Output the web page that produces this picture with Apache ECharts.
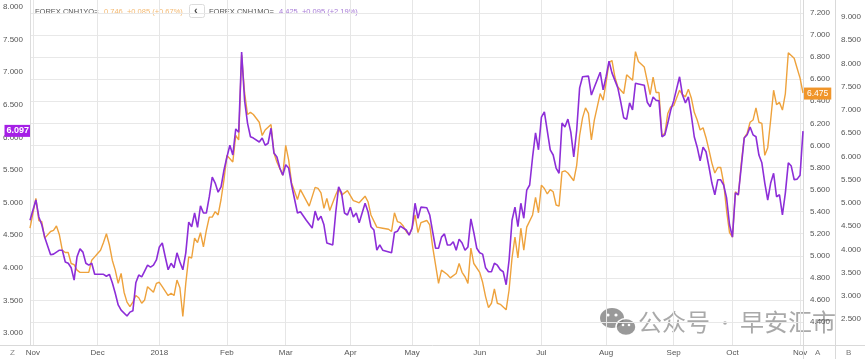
<!DOCTYPE html>
<html><head><meta charset="utf-8">
<script src="https://cdn.jsdelivr.net/npm/echarts@6/dist/echarts.min.js"></script>
<style>html,body{margin:0;padding:0;background:#fff}#c{width:865px;height:359px}</style>
</head><body><div id="c"></div>
<script>
// ---- Data ----
const firstDay = [2017, 9, 31];   // 2017-10-31
const lastDay = [2018, 10, 2];    // 2018-11-02
const monthNames = ['2018','Feb','Mar','Apr','May','Jun','Jul','Aug','Sep','Oct','Nov','Dec'];
const leftTicks = {min: 3, max: 8, interval: 0.5};
const axisATicks = {min: 4.4, max: 7.2, interval: 0.2};
const axisBTicks = {min: 2.5, max: 9, interval: 0.5};
const lastMO = 6.097;
const lastYO = 6.475;
// [weekday index, value]
const cnh1mo = [[0,4.73],[2,5.04],[3,4.78],[4,4.66],[5,4.47],[7,4.20],[8,4.21],[10,4.27],[11,4.27],[12,4.09],[13,4.07],[14,4.00],[15,3.81],[16,4.17],[17,4.29],[18,4.24],[19,4.07],[20,4.04],[21,4.07],[22,3.90],[23,3.90],[25,3.90],[26,3.87],[27,3.90],[28,3.77],[29,3.61],[30,3.43],[31,3.35],[33,3.26],[34,3.32],[35,3.34],[36,3.77],[37,3.89],[38,3.86],[39,3.95],[40,4.04],[41,4.01],[42,4.04],[43,4.12],[44,4.32],[45,4.38],[46,4.17],[47,3.97],[48,4.07],[49,4.00],[50,4.23],[51,4.09],[52,3.97],[53,4.23],[54,4.70],[55,4.63],[56,4.84],[57,4.62],[58,4.95],[59,4.84],[60,4.84],[61,5.09],[62,5.39],[63,5.30],[64,5.16],[65,5.24],[66,5.50],[67,5.70],[68,5.88],[69,5.73],[70,6.13],[71,6.08],[72,7.31],[73,6.57],[74,6.22],[75,6.01],[76,5.99],[78,5.93],[79,5.99],[80,5.88],[81,5.91],[82,6.14],[83,5.76],[84,5.70],[85,5.53],[86,5.42],[87,5.58],[88,5.53],[89,5.27],[91,4.84],[92,4.86],[94,4.73],[96,4.61],[97,4.87],[98,4.73],[99,4.79],[100,4.66],[101,4.38],[103,4.35],[104,4.84],[105,5.24],[106,5.15],[107,4.84],[108,4.81],[109,4.93],[110,4.78],[111,4.84],[112,4.69],[114,4.99],[115,4.86],[116,4.63],[117,4.58],[118,4.27],[119,4.35],[120,4.27],[123,4.23],[124,4.54],[125,4.56],[126,4.64],[128,4.58],[129,4.50],[130,4.61],[131,4.99],[132,4.76],[133,4.93],[135,4.92],[136,4.81],[137,4.55],[138,4.30],[139,4.30],[140,4.47],[141,4.52],[142,4.35],[143,4.35],[144,4.40],[145,4.27],[146,4.44],[147,4.38],[148,4.27],[149,4.32],[150,4.75],[151,4.54],[152,4.30],[153,4.23],[154,4.21],[155,4.00],[156,3.94],[157,3.94],[158,4.07],[159,4.04],[160,3.97],[161,3.94],[162,3.74],[163,4.12],[164,4.73],[165,4.93],[166,4.63],[167,4.99],[168,4.76],[169,5.19],[170,5.27],[171,5.70],[172,6.07],[173,5.81],[174,6.31],[175,6.39],[177,5.81],[178,5.73],[179,5.53],[180,5.45],[181,6.22],[182,6.16],[183,6.28],[184,6.08],[185,5.70],[186,6.11],[187,6.76],[188,6.93],[190,6.94],[191,6.65],[192,6.77],[194,7.00],[195,6.73],[196,6.93],[197,7.17],[198,6.99],[200,6.76],[201,6.54],[202,6.30],[203,6.28],[204,6.53],[205,6.42],[206,6.83],[207,6.82],[209,6.80],[210,6.54],[211,6.47],[212,6.62],[213,6.57],[214,6.56],[215,6.01],[216,6.04],[217,6.22],[218,6.42],[219,6.56],[221,6.93],[222,6.65],[223,6.53],[224,6.62],[225,6.34],[226,6.01],[227,5.85],[228,5.64],[229,5.85],[230,5.78],[231,5.55],[232,5.30],[233,5.12],[234,5.35],[235,5.35],[236,5.27],[237,5.07],[238,4.66],[239,4.47],[240,5.15],[241,5.12],[242,5.55],[243,5.99],[244,6.04],[245,6.16],[246,6.04],[247,6.01],[248,5.73],[249,5.61],[250,5.30],[251,5.04],[252,5.30],[253,5.45],[254,5.09],[255,5.12],[256,4.81],[257,5.15],[258,5.61],[259,5.56],[260,5.35],[261,5.36],[262,5.42],[263,6.097]];
const cnh1yo = [[0,5.25],[2,5.52],[3,5.32],[4,5.31],[5,5.16],[7,5.22],[8,5.23],[9,5.27],[10,5.19],[11,5.05],[12,5.03],[13,5.03],[14,4.93],[15,4.92],[16,4.87],[17,4.85],[19,4.85],[20,4.85],[21,4.96],[22,4.99],[23,5.02],[24,5.05],[25,5.12],[26,5.20],[27,5.10],[28,4.96],[29,4.87],[30,4.75],[31,4.84],[32,4.67],[33,4.58],[34,4.54],[35,4.58],[36,4.64],[37,4.62],[38,4.57],[39,4.60],[40,4.72],[42,4.67],[43,4.75],[44,4.76],[45,4.72],[47,4.64],[48,4.66],[49,4.64],[50,4.78],[51,4.71],[52,4.45],[53,4.75],[54,4.99],[55,4.98],[56,5.16],[57,5.12],[58,5.21],[59,5.08],[60,5.23],[61,5.35],[62,5.35],[63,5.40],[64,5.37],[65,5.51],[66,5.69],[67,5.91],[69,5.85],[70,6.09],[71,6.05],[72,6.82],[73,6.48],[74,6.28],[75,6.30],[76,6.28],[78,6.21],[79,6.09],[80,6.14],[82,6.19],[83,5.93],[84,5.85],[86,5.73],[87,6.00],[88,5.87],[89,5.66],[91,5.51],[92,5.60],[93,5.55],[95,5.45],[97,5.62],[98,5.61],[99,5.57],[100,5.43],[101,5.52],[102,5.41],[103,5.48],[104,5.55],[105,5.61],[106,5.55],[108,5.59],[110,5.50],[111,5.49],[112,5.48],[114,5.54],[115,5.49],[116,5.37],[118,5.26],[120,5.25],[122,5.24],[123,5.22],[124,5.39],[125,5.31],[126,5.30],[127,5.27],[128,5.22],[129,5.19],[130,5.25],[131,5.37],[132,5.21],[133,5.30],[135,5.32],[136,5.28],[137,5.08],[139,4.75],[140,4.87],[142,4.83],[143,4.80],[145,4.84],[146,4.93],[147,4.85],[148,4.81],[149,4.75],[150,5.07],[151,4.93],[153,4.85],[154,4.76],[155,4.63],[156,4.53],[157,4.57],[158,4.70],[159,4.57],[160,4.56],[162,4.51],[163,4.69],[164,4.98],[165,5.17],[166,4.98],[167,5.25],[168,5.05],[169,5.26],[171,5.37],[172,5.53],[173,5.39],[174,5.64],[175,5.61],[176,5.56],[177,5.60],[178,5.58],[179,5.46],[180,5.45],[181,5.76],[182,5.77],[183,5.75],[185,5.68],[186,5.82],[187,6.09],[188,6.25],[189,6.34],[190,6.29],[191,6.05],[192,6.23],[193,6.35],[194,6.47],[195,6.41],[196,6.57],[197,6.75],[198,6.77],[199,6.62],[200,6.53],[202,6.47],[203,6.64],[205,6.59],[206,6.85],[207,6.76],[209,6.71],[211,6.46],[212,6.62],[213,6.48],[214,6.48],[215,6.09],[216,6.11],[217,6.29],[218,6.35],[219,6.36],[221,6.50],[222,6.46],[223,6.44],[224,6.51],[225,6.43],[226,6.30],[227,6.23],[228,6.14],[229,6.16],[230,6.07],[231,5.96],[232,5.84],[233,5.75],[234,5.80],[235,5.80],[236,5.66],[237,5.41],[238,5.21],[239,5.17],[240,5.58],[241,5.55],[242,5.84],[243,6.07],[244,6.11],[245,6.21],[246,6.23],[247,6.34],[248,6.21],[249,6.20],[250,5.91],[251,5.98],[252,6.23],[253,6.50],[254,6.37],[255,6.39],[256,6.32],[257,6.47],[258,6.84],[260,6.79],[261,6.70],[262,6.61],[263,6.475]];

// ---- weekday categories ----
const categories = [];
(function(){
  let d = Date.UTC(firstDay[0], firstDay[1], firstDay[2]);
  const e = Date.UTC(lastDay[0], lastDay[1], lastDay[2]);
  while (d <= e) {
    const w = new Date(d).getUTCDay();
    if (w !== 0 && w !== 6) categories.push(new Date(d).toISOString().slice(0,10));
    d += 86400000;
  }
})();
function isMonthStart(i){
  if (i === 0) return false;
  return categories[i].slice(5,7) !== categories[i-1].slice(5,7);
}
function monthLabel(v){ return monthNames[parseInt(v.slice(5,7),10)-1]; }

const PURPLE = '#8d2ed8', ORANGE = '#eea23c';
const FONT = "'Liberation Sans', Arial, sans-serif";
const CJK = "'Noto Sans CJK SC', sans-serif";
const lab = {color:'#555', fontSize:8, fontFamily:FONT};

const gridBase = {left:30, right:62};
const grids = [
  Object.assign({top:0, bottom:14}, gridBase),
  Object.assign({top:7, bottom:26}, gridBase),
  Object.assign({top:13, bottom:37}, gridBase),
  Object.assign({top:17, bottom:40}, gridBase)
];
const xAxes = grids.map((g, i) => ({
  type:'category', gridIndex:i, data:categories, boundaryGap:false,
  axisLine:{show:false}, axisTick:{show:false},
  axisLabel: i === 0 ? Object.assign({interval:(idx)=>isMonthStart(idx), formatter:monthLabel, margin:4}, lab) : {show:false},
  splitLine: i === 0 ? {show:true, interval:(idx)=>isMonthStart(idx), lineStyle:{color:'#e6e6e6', width:1}} : {show:false}
}));
const yAxes = [
  {type:'value', gridIndex:0, min:0, max:1, show:false},
  Object.assign({type:'value', gridIndex:1, position:'left',
    axisLine:{show:false}, axisTick:{show:false}, splitLine:{show:false},
    axisLabel:Object.assign({formatter:v=>v.toFixed(3), margin:7}, lab)}, leftTicks),
  Object.assign({type:'value', gridIndex:2, position:'right',
    axisLine:{show:false}, axisTick:{show:false}, splitLine:{show:true, lineStyle:{color:'#e8e8e8'}},
    axisLabel:Object.assign({formatter:v=>v.toFixed(3), margin:7}, lab)}, axisATicks),
  Object.assign({type:'value', gridIndex:3, position:'right', offset:32,
    axisLine:{show:false}, axisTick:{show:false}, splitLine:{show:false},
    axisLabel:Object.assign({formatter:v=>v.toFixed(3), margin:6}, lab)}, axisBTicks)
];

const chart = echarts.init(document.getElementById('c'), null, {renderer:'canvas'});
chart.setOption({
  animation:false,
  backgroundColor:'#fff',
  grid: grids,
  xAxis: xAxes,
  yAxis: yAxes,
  series: [
    {type:'line', name:'FOREX CNH1YO=', xAxisIndex:2, yAxisIndex:2, data:cnh1yo, showSymbol:false, symbol:'none',
     lineStyle:{color:ORANGE, width:1.4}, itemStyle:{color:ORANGE}, z:3,
     markLine:{silent:true, symbol:'none', lineStyle:{color:'rgba(0,0,0,0)', width:1, type:'solid'}, data:[{yAxis:lastYO}],
       label:{show:true, position:'end', distance:1, formatter:lastYO.toFixed(3), backgroundColor:'#f0952a', color:'#fff',
              fontSize:8.5, fontFamily:FONT, padding:[2,3,1,3], opacity:1}}},
    {type:'line', name:'FOREX CNH1MO=', xAxisIndex:1, yAxisIndex:1, data:cnh1mo, showSymbol:false, symbol:'none',
     lineStyle:{color:PURPLE, width:1.6}, itemStyle:{color:PURPLE}, z:4,
     markLine:{silent:true, symbol:'none', lineStyle:{color:'rgba(0,0,0,0)', width:1, type:'solid'}, data:[{yAxis:lastMO}],
       label:{show:true, position:'start', distance:0, formatter:lastMO.toFixed(3), backgroundColor:'#a51fe6', color:'#fff',
              fontSize:9, fontWeight:'bold', fontFamily:FONT, padding:[2,1,1,2], opacity:1}}}
  ],
  graphic: [
    {type:'line', shape:{x1:0, y1:345.5, x2:865, y2:345.5}, style:{stroke:'#d9d9d9', lineWidth:1}, z:1},
    {type:'line', shape:{x1:30.5, y1:0, x2:30.5, y2:345}, style:{stroke:'#dcdcdc', lineWidth:1}, z:1},
    {type:'line', shape:{x1:803.5, y1:0, x2:803.5, y2:359}, style:{stroke:'#d9d9d9', lineWidth:1}, z:1},
    {type:'line', shape:{x1:835.5, y1:0, x2:835.5, y2:359}, style:{stroke:'#d9d9d9', lineWidth:1}, z:1},
    {type:'text', left:10, top:349, style:{text:'Z', fill:'#888', font:'8px '+FONT}},
    {type:'text', left:815, top:349, style:{text:'A', fill:'#777', font:'8px '+FONT}},
    {type:'text', left:846, top:349, style:{text:'B', fill:'#777', font:'8px '+FONT}},
    // legend line
    {type:'text', left:35, top:7.5, style:{text:'FOREX CNH1YO=', fill:'#555', font:'7.5px '+FONT}},
    {type:'text', left:104, top:7.5, style:{text:'0.746  +0.085 (+0.67%)', fill:'#f3b870', font:'7.5px '+FONT}},
    {type:'rect', shape:{x:189.5, y:4.5, width:15, height:13, r:2}, style:{fill:'#fff', stroke:'#dcdcdc', lineWidth:1}},
    {type:'text', left:194, top:5, style:{text:'‹', fill:'#444', font:'bold 11px '+FONT}},
    {type:'text', left:209, top:7.5, style:{text:'FOREX CNH1MO=', fill:'#555', font:'7.5px '+FONT}},
    {type:'text', left:279, top:7.5, style:{text:'4.425  +0.095 (+2.19%)', fill:'#a77bd6', font:'7.5px '+FONT}},
    // watermark
    {type:'group', z:50, children:[
      {type:'ellipse', shape:{cx:612, cy:318, rx:12, ry:10}, style:{fill:'rgba(128,128,128,0.8)'}},
      {type:'ellipse', shape:{cx:626, cy:327, rx:10, ry:8.5}, style:{fill:'rgba(128,128,128,0.8)', stroke:'#fff', lineWidth:1.5}},
      {type:'circle', shape:{cx:608, cy:315, r:1.6}, style:{fill:'#fff'}},
      {type:'circle', shape:{cx:616, cy:315, r:1.6}, style:{fill:'#fff'}},
      {type:'circle', shape:{cx:623, cy:325, r:1.3}, style:{fill:'#fff'}},
      {type:'circle', shape:{cx:629, cy:325, r:1.3}, style:{fill:'#fff'}},
      {type:'text', left:638, top:310, style:{text:'公众号', fill:'rgba(140,140,140,0.75)', font:'24px '+CJK}},
      {type:'circle', shape:{cx:725, cy:323, r:1.8}, style:{fill:'rgba(140,140,140,0.75)'}},
      {type:'text', left:740, top:310, style:{text:'早安汇市', fill:'rgba(140,140,140,0.75)', font:'24px '+CJK}}
    ]}
  ]
});
</script>
</body></html>
